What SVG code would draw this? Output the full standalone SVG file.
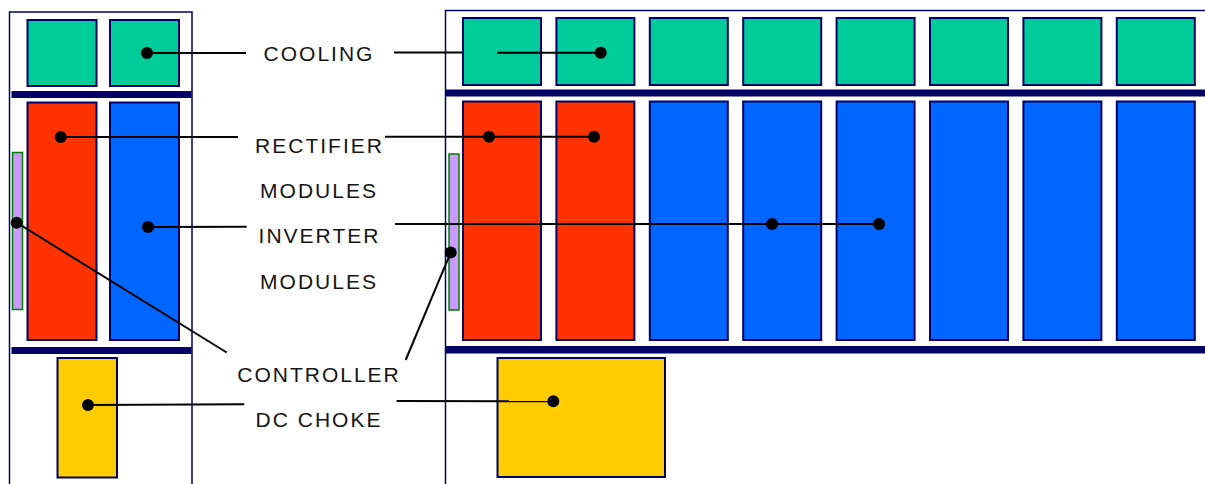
<svg xmlns="http://www.w3.org/2000/svg" width="1205" height="484" viewBox="0 0 1205 484">
  <style>
    .cab { fill: #ffffff; stroke: #000066; stroke-width: 1.5; }
    .bar { fill: #000066; }
    .mod { stroke: #000066; stroke-width: 2; }
    .cool { fill: #00cc99; }
    .rect { fill: #ff3300; }
    .inv { fill: #0066ff; }
    .choke { fill: #ffcc00; }
    .ctrl { fill: #cc99ff; stroke: #008000; stroke-width: 1.5; }
    .lead { stroke: #000000; stroke-width: 2; fill: none; }
    .dot { fill: #000000; }
    .lbl { font-family: "Liberation Sans", Arial, sans-serif; font-size: 21px; letter-spacing: 2px; fill: #141414; text-anchor: middle; }
  </style>

  <rect width="1205" height="484" fill="#ffffff"/>

  <!-- small cabinet (side view) -->
  <g id="cabinet-small">
    <rect class="cab" x="9.5" y="12" width="182.5" height="490"/>
    <rect class="bar" x="11.5" y="91" width="180" height="7"/>
    <rect class="bar" x="11.5" y="347" width="180" height="7"/>
  </g>
  <g id="cooling-small">
    <rect class="mod cool" x="27.5" y="20" width="69" height="66"/>
    <rect class="mod cool" x="110" y="20" width="69" height="66"/>
  </g>
  <g id="rectifier-small">
    <rect class="mod rect" x="27.5" y="102.5" width="69" height="237.5"/>
  </g>
  <g id="inverter-small">
    <rect class="mod inv" x="110" y="102.5" width="69" height="237.5"/>
  </g>
  <g id="controller-small">
    <rect class="ctrl" x="12.5" y="152.5" width="10" height="157"/>
  </g>
  <g id="choke-small">
    <rect class="mod choke" x="57.5" y="358" width="59.5" height="119.5"/>
  </g>

  <!-- large cabinet (front view) -->
  <g id="cabinet-large">
    <rect class="cab" x="445.5" y="10.5" width="800" height="500"/>
    <rect class="bar" x="446" y="89.5" width="759" height="7"/>
    <rect class="bar" x="446" y="346" width="759" height="7.5"/>
  </g>
  <g id="cooling-large">
    <rect class="mod cool" x="463" y="18" width="78" height="67"/>
    <rect class="mod cool" x="556.4" y="18" width="78" height="67"/>
    <rect class="mod cool" x="649.8" y="18" width="78" height="67"/>
    <rect class="mod cool" x="743.2" y="18" width="78" height="67"/>
    <rect class="mod cool" x="836.6" y="18" width="78" height="67"/>
    <rect class="mod cool" x="930" y="18" width="78" height="67"/>
    <rect class="mod cool" x="1023.4" y="18" width="78" height="67"/>
    <rect class="mod cool" x="1116.8" y="18" width="78" height="67"/>
  </g>
  <g id="rectifier-large">
    <rect class="mod rect" x="463" y="101.5" width="78" height="238.5"/>
    <rect class="mod rect" x="556.4" y="101.5" width="78" height="238.5"/>
  </g>
  <g id="inverter-large">
    <rect class="mod inv" x="649.8" y="101.5" width="78" height="238.5"/>
    <rect class="mod inv" x="743.2" y="101.5" width="78" height="238.5"/>
    <rect class="mod inv" x="836.6" y="101.5" width="78" height="238.5"/>
    <rect class="mod inv" x="930" y="101.5" width="78" height="238.5"/>
    <rect class="mod inv" x="1023.4" y="101.5" width="78" height="238.5"/>
    <rect class="mod inv" x="1116.8" y="101.5" width="78" height="238.5"/>
  </g>
  <g id="controller-large">
    <rect class="ctrl" x="449" y="154" width="10" height="156"/>
  </g>
  <g id="choke-large">
    <rect class="mod choke" x="497.5" y="358" width="167.5" height="119"/>
  </g>

  <!-- leader lines from labels to parts -->
  <g id="connectors">
    <line class="lead" x1="147" y1="53" x2="246" y2="53"/>
    <line class="lead" x1="394" y1="52.5" x2="462" y2="52.5"/>
    <line class="lead" x1="497" y1="52.7" x2="600.7" y2="52.7"/>

    <line class="lead" x1="60.7" y1="137" x2="238" y2="137"/>
    <line class="lead" x1="385" y1="136.7" x2="594" y2="136.7"/>

    <line class="lead" x1="148" y1="227" x2="246.7" y2="226.7"/>
    <line class="lead" x1="395" y1="224" x2="879" y2="224"/>

    <line class="lead" x1="16.7" y1="222.7" x2="226.7" y2="352.5"/>
    <line class="lead" x1="405.7" y1="360" x2="450.7" y2="252.5"/>

    <line class="lead" x1="88" y1="405" x2="244.3" y2="404.3"/>
    <line class="lead" x1="396.7" y1="401" x2="553.3" y2="401.3"/>

    <circle class="dot" cx="147" cy="53" r="6"/>
    <circle class="dot" cx="600.7" cy="52.7" r="6"/>
    <circle class="dot" cx="60.7" cy="137" r="6"/>
    <circle class="dot" cx="489" cy="136.7" r="6"/>
    <circle class="dot" cx="594" cy="136.7" r="6"/>
    <circle class="dot" cx="148" cy="227" r="6"/>
    <circle class="dot" cx="772" cy="224" r="6"/>
    <circle class="dot" cx="879" cy="224" r="6"/>
    <circle class="dot" cx="16.7" cy="222.7" r="6"/>
    <circle class="dot" cx="450.7" cy="252.5" r="6"/>
    <circle class="dot" cx="88" cy="405" r="6"/>
    <circle class="dot" cx="553.3" cy="401.3" r="6"/>
  </g>

  <g id="labels">
    <text class="lbl" x="319" y="61">COOLING</text>
    <text class="lbl" x="319.5" y="152.7">RECTIFIER</text>
    <text class="lbl" x="319" y="198.3">MODULES</text>
    <text class="lbl" x="319.5" y="243.3">INVERTER</text>
    <text class="lbl" x="319" y="289.3">MODULES</text>
    <text class="lbl" x="319" y="381.7">CONTROLLER</text>
    <text class="lbl" x="319" y="426.7">DC CHOKE</text>
  </g>
</svg>
